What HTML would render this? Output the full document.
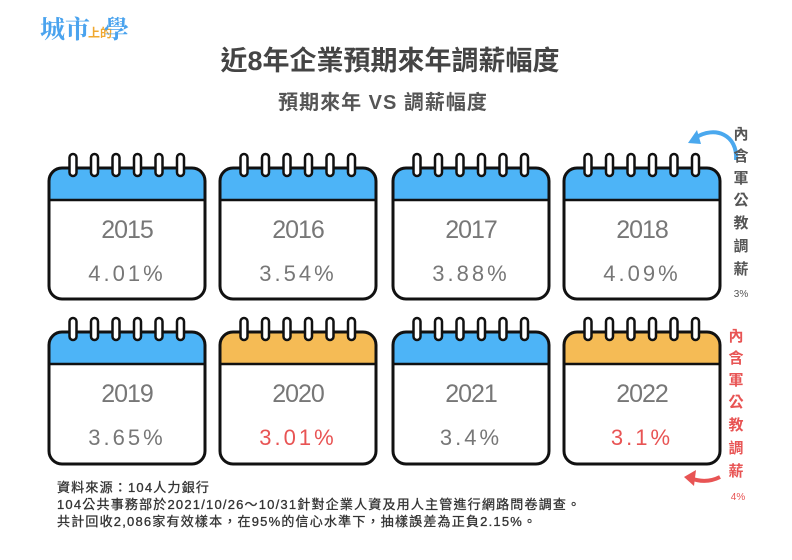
<!DOCTYPE html>
<html><head><meta charset="utf-8"><style>
body{margin:0;background:#fff;width:792px;height:555px;overflow:hidden}
</style></head><body>
<svg width="792" height="555" xmlns="http://www.w3.org/2000/svg" font-family="Liberation Sans, Noto Sans CJK TC, sans-serif">
<text x="40" y="38" font-size="25" fill="#4aa3ee" font-family="Noto Serif CJK SC, serif" font-weight="bold">城市</text>
<text x="88" y="37" font-size="12" fill="#f0a830" font-weight="bold">上的</text>
<text x="104" y="38" font-size="25" fill="#4aa3ee" font-family="Noto Serif CJK SC, serif" font-weight="bold">學</text>
<text x="390" y="70" font-size="27" font-weight="bold" fill="#444" text-anchor="middle">近8年企業預期來年調薪幅度</text>
<text x="383" y="109" font-size="20" font-weight="bold" fill="#555" text-anchor="middle" letter-spacing="1">預期來年  VS  調薪幅度</text>
<g id="cards"></g>
<path d="M736 160 C738 135 715 125 695 138" fill="none" stroke="#4aa8ee" stroke-width="4"/>
<path d="M688 143 L697 130 L701 144 Z" fill="#4aa8ee"/>
<g font-size="15" fill="#555" text-anchor="middle" font-weight="bold">
<text x="741" y="139">內</text><text x="741" y="161">含</text><text x="741" y="183">軍</text><text x="741" y="205">公</text><text x="741" y="228">教</text><text x="741" y="251">調</text><text x="741" y="274">薪</text>
</g>
<text x="741" y="297" font-size="10" fill="#555" text-anchor="middle">3%</text>
<g font-size="15" fill="#e85454" text-anchor="middle" font-weight="bold">
<text x="736" y="341">內</text><text x="736" y="363">含</text><text x="736" y="385">軍</text><text x="736" y="407">公</text><text x="736" y="430">教</text><text x="736" y="453">調</text><text x="736" y="476">薪</text>
</g>
<text x="738" y="500" font-size="10" fill="#e85454" text-anchor="middle">4%</text>
<path d="M720 477 C710 482 700 482 690 478" fill="none" stroke="#e85454" stroke-width="4"/>
<path d="M684 477 L696 470 L694 486 Z" fill="#e85454"/>
<g font-size="13" fill="#333" stroke="#333" stroke-width="0.3" letter-spacing="1.2">
<text x="57" y="492">資料來源：104人力銀行</text>
<text x="57" y="509">104公共事務部於2021/10/26～10/31針對企業人資及用人主管進行網路問卷調查。</text>
<text x="57" y="526">共計回收2,086家有效樣本，在95%的信心水準下，抽樣誤差為正負2.15%。</text>
</g>
</svg>
<script>
const data=[["2015","4.01%",0,0],["2016","3.54%",0,0],["2017","3.88%",0,0],["2018","4.09%",0,0],["2019","3.65%",0,0],["2020","3.01%",1,1],["2021","3.4%",0,0],["2022","3.1%",1,1]];
const xs=[49,220,393,564];const ys=[168,332];
let s="";
data.forEach((d,i)=>{const x=xs[i%4],y=ys[Math.floor(i/4)],w=156,h=(i<4?131:132);
const hc=d[2]?"#f5bb55":"#4db4f7";
s+=`<path d="M${x} ${y+12} Q${x} ${y} ${x+12} ${y} H${x+w-12} Q${x+w} ${y} ${x+w} ${y+12} V${y+32} H${x} Z" fill="${hc}"/>`;
s+=`<rect x="${x}" y="${y}" width="${w}" height="${h}" rx="13" fill="none" stroke="#111" stroke-width="3"/>`;
s+=`<line x1="${x}" y1="${y+32}" x2="${x+w}" y2="${y+32}" stroke="#111" stroke-width="2.5"/>`;
for(let k=0;k<6;k++){const rx=x+24+k*21.5;s+=`<rect x="${rx-3.5}" y="${y-14}" width="7" height="22" rx="3.5" fill="#fff" stroke="#111" stroke-width="2.5"/>`;}
s+=`<text x="${x+w/2}" y="${y+70}" font-size="25" fill="#777" text-anchor="middle" letter-spacing="-1">${d[0]}</text>`;
s+=`<text x="${x+w/2}" y="${y+113}" font-size="22" fill="${d[3]?'#e85454':'#777'}" text-anchor="middle" letter-spacing="3">${d[1]}</text>`;});
document.getElementById("cards").innerHTML=s;
</script>
</body></html>
